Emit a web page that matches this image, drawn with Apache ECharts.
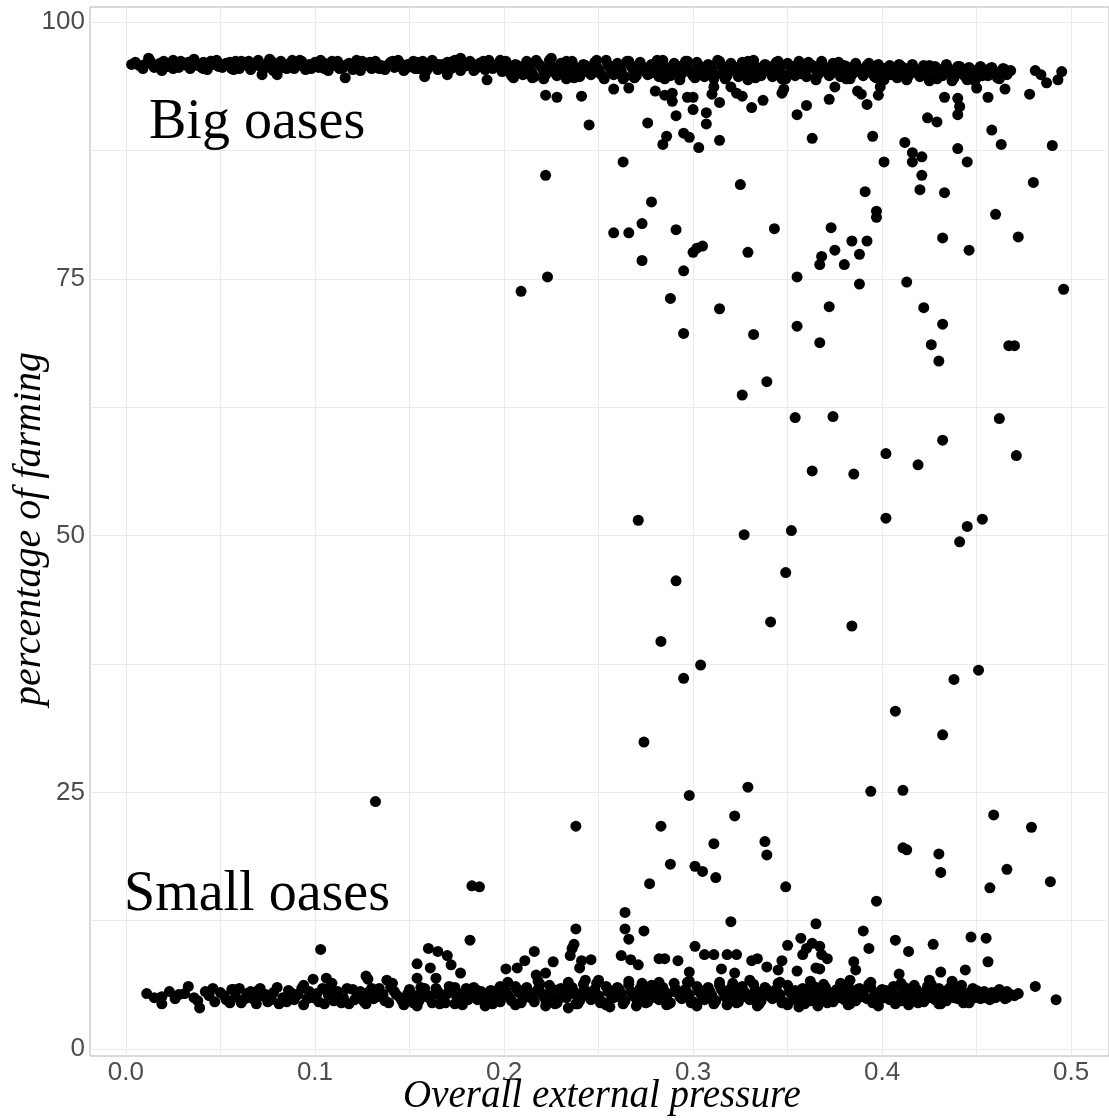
<!DOCTYPE html>
<html><head><meta charset="utf-8">
<script src="https://cdn.jsdelivr.net/npm/echarts@6/dist/echarts.min.js"></script>
<style>html,body{margin:0;padding:0;background:#fff}#c{width:1109px;height:1120px}</style>
</head><body><div id="c"></div>
<script>
const xTicks = [0, 0.1, 0.2, 0.3, 0.4, 0.5];
const xGridValues = [0, 0.05, 0.1, 0.15, 0.2, 0.25, 0.3, 0.35, 0.4, 0.45, 0.5];
const yTicks = [0, 25, 50, 75, 100];
const yGridValues = [0, 12.5, 25, 37.5, 50, 62.5, 75, 87.5, 100];

// dense band of big oases (~95-96 %)
const bigBand = [
[0.005,96.1],[0.010,95.9],[0.012,96.5],[0.019,95.3],[0.018,96.0],[0.022,95.7],[0.025,96.3],[0.028,95.6],[0.031,96.0],[0.034,95.5],[0.036,96.4],[0.038,95.8],[0.041,96.1],[0.043,95.4],[0.046,95.9],[0.048,96.3],[0.051,95.6],[0.053,96.0],[0.056,95.5],[0.058,96.2],[0.061,95.8],[0.063,96.1],[0.066,95.4],[0.068,95.9],[0.070,96.3],[0.072,94.9],[0.073,95.6],[0.076,96.4],[0.075,96.0],[0.078,95.3],[0.080,94.9],[0.080,95.8],[0.082,96.2],[0.085,95.5],[0.087,96.0],[0.090,95.7],[0.092,96.3],[0.095,95.4],[0.097,95.9],[0.100,96.1],[0.102,95.6],[0.105,96.0],[0.107,95.3],[0.110,95.8],[0.112,96.2],[0.116,94.6],[0.115,95.6],[0.118,96.0],[0.120,95.4],[0.122,96.3],[0.125,95.7],[0.127,96.0],[0.130,95.5],[0.132,96.2],[0.135,95.8],[0.137,95.4],[0.140,96.1],[0.142,95.6],[0.145,96.0],[0.147,95.3],[0.150,95.8],[0.152,96.2],[0.155,95.5],[0.157,96.0],[0.158,94.7],[0.160,95.7],[0.162,96.3],[0.165,95.4],[0.167,95.9],[0.170,94.9],[0.170,96.1],[0.172,95.5],[0.175,96.0],[0.177,96.5],[0.177,95.3],[0.180,95.8],[0.182,96.2],[0.185,95.6],[0.187,96.0],[0.190,95.4],[0.191,94.4],[0.192,96.3],[0.195,95.7],[0.197,96.0],[0.199,95.2],
[0.200,96.1],[0.202,95.4],[0.204,94.8],[0.206,95.9],[0.208,95.5],[0.210,94.9],[0.212,96.2],[0.214,95.3],[0.215,94.6],[0.216,94.7],[0.218,96.0],[0.220,95.6],[0.222,94.9],[0.224,96.3],[0.225,96.5],[0.226,95.4],[0.228,94.8],[0.230,96.0],[0.232,95.5],[0.234,95.0],[0.236,96.2],[0.238,95.3],[0.240,94.7],[0.242,95.9],[0.244,95.5],[0.246,94.9],[0.248,96.1],[0.250,95.4],[0.252,94.8],[0.254,96.3],[0.256,95.6],[0.258,94.9],[0.260,96.0],[0.262,95.3],[0.264,94.7],[0.266,96.2],[0.268,95.5],[0.270,94.8],[0.272,96.1],[0.274,95.4],[0.276,94.9],[0.278,95.9],[0.280,95.6],[0.282,94.7],[0.284,96.3],[0.286,95.4],[0.288,94.8],[0.290,96.0],[0.292,95.5],[0.294,95.0],[0.296,96.2],[0.298,95.3],[0.300,94.8],[0.302,96.1],[0.304,95.5],[0.306,94.7],[0.308,95.9],[0.310,95.4],[0.312,94.9],[0.314,96.2],[0.316,95.6],[0.318,94.8],[0.320,96.0],[0.322,95.3],[0.324,94.7],[0.326,96.1],[0.328,95.5],[0.330,94.9],[0.332,96.3],[0.334,95.4],[0.336,94.8],[0.338,95.9],[0.340,95.6],[0.342,94.7],[0.344,96.1],[0.346,95.3],[0.348,94.9],[0.350,96.0],[0.352,95.5],[0.354,94.8],[0.356,96.2],[0.358,95.4],[0.360,94.7],[0.362,95.9],[0.364,95.5],[0.366,94.9],[0.368,96.2],[0.370,95.3],[0.372,94.8],[0.374,96.0],[0.376,95.6],[0.378,94.7],[0.380,95.8],[0.382,95.4],[0.384,94.9],[0.386,96.0],[0.388,95.3],[0.390,94.8],[0.392,95.8],[0.394,95.5],[0.396,94.7],[0.398,95.9],[0.400,95.2],[0.402,94.8],[0.404,95.8],[0.406,95.4],[0.408,94.6],[0.410,95.7],[0.412,95.2],[0.414,94.8],[0.416,95.9],[0.418,95.3],[0.420,94.7],[0.422,95.8],[0.424,95.2],[0.426,94.6],[0.428,95.7],[0.430,95.3],[0.432,94.8],[0.434,95.9],[0.436,95.1],[0.438,94.6],[0.440,95.7],[0.442,95.2],[0.444,94.7],[0.446,95.6],[0.448,95.1],[0.450,94.6],[0.452,95.7],[0.454,95.2],[0.456,94.8],[0.458,95.6],[0.460,95.0],[0.462,94.5],[0.464,95.5],[0.466,94.9],[0.468,95.3]
];
const bigBandMore = [
[0.007,95.8],[0.015,95.6],[0.020,96.2],[0.027,95.9],[0.033,96.1],[0.040,95.6],[0.045,96.2],[0.050,95.9],[0.055,96.1],[0.060,95.5],[0.065,96.2],[0.071,95.7],[0.077,95.9],[0.083,95.6],[0.088,96.3],[0.093,95.8],[0.098,95.5],[0.103,96.3],[0.108,95.9],[0.113,95.5],[0.119,95.8],[0.124,95.3],[0.129,96.1],[0.134,95.5],[0.139,95.9],[0.144,96.3],[0.149,95.6],[0.154,96.1],[0.159,95.3],[0.164,95.9],[0.169,95.6],[0.174,96.3],[0.179,95.7],[0.184,95.3],[0.189,96.1],[0.194,95.5],[0.198,96.3],
[0.201,95.7],[0.203,95.1],[0.207,95.8],[0.209,95.2],[0.213,95.7],[0.215,95.0],[0.219,95.8],[0.221,95.2],[0.225,95.7],[0.227,95.1],[0.231,95.8],[0.233,94.5],[0.237,95.7],[0.239,95.1],[0.243,95.8],[0.245,95.2],[0.249,95.7],[0.251,95.0],[0.255,95.8],[0.257,95.2],[0.261,95.7],[0.263,94.5],[0.267,95.8],[0.269,95.1],[0.273,95.7],[0.275,95.2],[0.279,95.8],[0.281,95.0],[0.285,95.7],[0.287,95.2],[0.291,95.8],[0.293,94.4],[0.297,95.7],[0.299,95.1],[0.303,95.8],[0.305,95.2],[0.309,95.7],[0.311,94.5],[0.315,95.8],[0.317,95.1],[0.321,95.7],[0.323,95.2],[0.327,95.8],[0.329,94.4],[0.333,95.7],[0.335,95.1],[0.339,95.8],[0.341,95.2],[0.345,95.7],[0.347,94.5],[0.351,95.8],[0.353,95.1],[0.357,95.7],[0.359,95.2],[0.363,95.8],[0.365,94.4],[0.369,95.7],[0.371,95.1],[0.375,95.6],[0.377,95.2],[0.381,95.7],[0.383,94.5],[0.387,95.6],[0.389,95.1],[0.393,95.7],[0.395,95.0],[0.399,95.6],[0.401,94.4],[0.405,95.5],[0.407,95.0],[0.411,95.6],[0.413,94.4],[0.417,95.5],[0.419,95.0],[0.423,95.6],[0.425,94.3],[0.429,95.5],[0.431,94.9],[0.435,95.5],[0.437,94.3],[0.441,95.4],[0.443,94.9],[0.447,95.4],[0.449,94.3],[0.453,95.4],[0.455,94.9],[0.459,95.3],[0.461,94.6],[0.465,95.2]
];
const bigBandFill = [
[0.003,95.9],[0.009,95.5],[0.013,96.2],[0.017,95.7],[0.021,95.9],[0.025,95.5],[0.029,96.2],[0.033,95.7],[0.037,95.9],[0.041,95.5],[0.045,96.2],[0.049,95.7],[0.053,95.9],[0.057,95.4],[0.061,96.2],[0.065,95.7],[0.069,95.9],[0.073,95.5],[0.077,96.2],[0.081,95.7],[0.085,95.9],[0.089,95.5],[0.093,96.2],[0.097,95.6],[0.101,95.9],[0.105,95.5],[0.109,96.2],[0.113,95.7],[0.117,95.9],[0.121,95.5],[0.125,96.2],[0.129,95.7],[0.133,95.9],[0.137,95.5],[0.141,96.2],[0.145,95.7],[0.149,95.9],[0.153,95.5],[0.157,96.2],[0.161,95.7],[0.165,95.9],[0.169,95.5],[0.173,96.2],[0.177,95.7],[0.181,95.9],[0.185,95.5],[0.189,96.2],[0.193,95.7],[0.197,95.9],
[0.201,96.2],[0.205,94.6],[0.209,95.6],[0.213,95.0],[0.217,96.3],[0.221,94.5],[0.225,95.7],[0.229,95.0],[0.233,96.2],[0.237,94.6],[0.241,95.6],[0.245,95.1],[0.249,96.3],[0.253,94.5],[0.257,95.7],[0.261,95.0],[0.265,96.2],[0.269,94.6],[0.273,95.6],[0.277,95.0],[0.281,96.3],[0.285,94.5],[0.289,95.7],[0.293,95.1],[0.297,96.2],[0.301,94.6],[0.305,95.6],[0.309,95.0],[0.313,96.3],[0.317,94.5],[0.321,95.7],[0.325,95.0],[0.329,96.2],[0.333,94.6],[0.337,95.6],[0.341,95.1],[0.345,96.2],[0.349,94.5],[0.353,95.7],[0.357,95.0],[0.361,96.1],[0.365,94.6],[0.369,95.6],[0.373,95.0],[0.377,96.1],[0.381,94.5],[0.385,95.7],[0.389,95.1],[0.393,96.0],[0.397,94.6],[0.401,95.5],[0.405,94.9],[0.409,95.9],[0.413,94.5],[0.417,95.5],[0.421,94.9],[0.425,95.8],[0.429,94.5],[0.433,95.4],[0.437,94.9],[0.441,95.7],[0.445,94.4],[0.449,95.3],[0.453,94.8],[0.457,95.5],[0.461,94.8],[0.465,95.4]
];

// dense band of small oases (~5 %)
const smallBand = [
[0.011,5.4],[0.019,5.1],[0.019,4.4],[0.026,4.9],[0.028,5.3],[0.033,6.1],[0.036,5.0],[0.039,4.0],[0.042,5.6],[0.044,5.2],[0.047,4.6],[0.050,5.5],[0.053,4.8],[0.056,5.8],[0.058,5.1],[0.061,4.5],[0.064,5.4],[0.067,4.9],[0.070,5.7],[0.072,5.2],[0.075,4.6],[0.078,5.5],[0.081,4.4],[0.083,5.0],[0.086,5.7],[0.089,4.8],[0.091,5.3],[0.094,4.3],[0.097,5.6],[0.099,5.0],[0.102,4.6],[0.104,5.9],[0.107,5.3],[0.110,4.7],[0.112,5.6],[0.115,5.0],[0.118,4.4],[0.120,5.8],[0.123,5.2],[0.126,4.6],[0.128,5.5],[0.131,4.9],[0.134,5.9],[0.136,5.3],[0.139,4.5],[0.142,5.6],[0.145,5.0],[0.147,4.3],[0.150,5.8],[0.153,5.2],[0.155,4.7],[0.158,5.5],[0.161,4.9],[0.164,5.9],[0.166,5.3],[0.169,4.5],[0.172,5.7],[0.175,5.1],[0.177,4.6],[0.180,5.9],[0.183,5.3],[0.186,4.8],[0.188,5.6],[0.191,5.0],[0.194,4.4],[0.197,5.8],[0.199,5.2],
[0.200,5.9],[0.202,5.3],[0.204,4.7],[0.206,6.1],[0.208,5.5],[0.210,4.9],[0.212,6.0],[0.214,5.2],[0.216,4.6],[0.218,5.8],[0.220,5.4],[0.222,4.8],[0.224,6.2],[0.226,5.1],[0.228,4.5],[0.230,5.9],[0.232,5.5],[0.234,4.0],[0.236,6.0],[0.238,5.3],[0.240,4.7],[0.242,6.3],[0.244,5.4],[0.246,4.8],[0.248,5.8],[0.250,5.2],[0.252,4.6],[0.254,6.1],[0.256,4.1],[0.258,5.0],[0.260,6.0],[0.262,5.4],[0.264,4.7],[0.266,6.3],[0.268,5.5],[0.270,4.9],[0.272,5.9],[0.274,5.2],[0.276,4.6],[0.278,6.2],[0.280,5.4],[0.282,4.8],[0.284,6.0],[0.286,5.1],[0.288,4.5],[0.290,6.4],[0.292,5.5],[0.294,4.9],[0.296,5.8],[0.298,5.3],[0.300,4.6],[0.302,6.1],[0.304,5.4],[0.306,4.8],[0.308,6.0],[0.310,5.2],[0.312,4.7],[0.314,6.2],[0.316,5.5],[0.318,4.9],[0.320,5.9],[0.322,5.3],[0.324,4.6],[0.326,6.1],[0.328,5.4],[0.330,4.8],[0.332,6.3],[0.334,5.2],[0.336,4.7],[0.338,6.0],[0.340,5.5],[0.342,4.9],[0.344,5.8],[0.346,5.3],[0.348,4.6],[0.350,6.2],[0.352,5.4],[0.354,4.8],[0.356,4.1],[0.358,5.9],[0.360,5.2],[0.362,4.7],[0.364,6.1],[0.366,5.5],[0.368,4.9],[0.370,6.0],[0.372,5.3],[0.374,4.6],[0.376,5.8],[0.378,5.4],[0.380,4.8],[0.382,6.2],[0.384,5.2],[0.386,4.7],[0.388,5.9],[0.390,5.5],[0.392,4.9],[0.394,6.0],[0.396,5.3],[0.398,4.6],[0.400,5.8],[0.402,5.4],[0.404,4.8],[0.406,6.1],[0.408,5.2],[0.410,4.7],[0.412,6.0],[0.414,5.5],[0.416,4.9],[0.418,5.8],[0.420,5.3],[0.422,4.6],[0.424,6.1],[0.426,5.4],[0.428,4.8],[0.430,5.9],[0.432,5.2],[0.434,4.7],[0.436,6.0],[0.438,5.5],[0.440,4.9],[0.442,5.7],[0.444,5.3],[0.446,4.8],[0.448,5.9],[0.450,5.2],[0.452,4.9],[0.454,5.6],[0.456,5.1],[0.458,5.5],[0.460,5.0],[0.462,5.4],[0.464,5.2],[0.466,5.6],[0.468,5.3]
];
const smallBandMore = [
[0.015,5.0],[0.023,5.6],[0.031,5.4],[0.038,4.7],[0.046,5.9],[0.052,5.2],[0.055,4.5],[0.060,5.9],[0.063,4.9],[0.066,5.6],[0.069,4.4],[0.074,5.3],[0.077,4.8],[0.080,6.0],[0.085,4.6],[0.088,5.4],[0.093,5.9],[0.096,4.9],[0.101,5.4],[0.105,4.4],[0.108,6.0],[0.111,5.1],[0.114,4.5],[0.117,5.9],[0.121,4.8],[0.124,5.6],[0.127,4.4],[0.130,5.9],[0.133,5.1],[0.137,4.7],[0.140,6.0],[0.143,5.3],[0.146,4.7],[0.149,5.4],[0.152,4.5],[0.156,6.0],[0.159,5.1],[0.162,4.5],[0.165,5.6],[0.168,4.9],[0.171,6.1],[0.174,4.4],[0.178,5.4],[0.181,4.8],[0.184,6.0],[0.187,5.1],[0.190,4.5],[0.193,5.7],[0.196,4.9],[0.198,6.1],
[0.201,5.6],[0.203,5.0],[0.207,5.8],[0.209,4.5],[0.213,5.6],[0.215,5.0],[0.219,6.3],[0.221,5.1],[0.225,5.6],[0.227,4.4],[0.231,5.8],[0.233,5.0],[0.237,5.6],[0.239,4.4],[0.243,5.7],[0.245,5.1],[0.249,6.4],[0.251,4.5],[0.255,5.6],[0.257,5.0],[0.261,5.8],[0.263,4.4],[0.267,5.6],[0.269,5.1],[0.273,6.4],[0.275,4.5],[0.279,5.7],[0.281,5.0],[0.285,5.6],[0.287,4.4],[0.291,5.8],[0.293,5.1],[0.297,6.5],[0.299,4.5],[0.303,5.7],[0.305,5.0],[0.309,5.6],[0.311,4.4],[0.315,5.8],[0.317,5.1],[0.321,6.4],[0.323,4.5],[0.327,5.6],[0.329,5.0],[0.333,5.7],[0.335,4.4],[0.339,5.8],[0.341,5.1],[0.345,6.4],[0.347,4.5],[0.351,5.6],[0.353,5.0],[0.357,5.7],[0.359,4.4],[0.363,5.8],[0.365,5.1],[0.369,6.3],[0.371,4.5],[0.375,5.6],[0.377,5.0],[0.381,5.7],[0.383,4.4],[0.387,5.8],[0.389,5.1],[0.393,6.3],[0.395,4.5],[0.399,5.6],[0.401,5.0],[0.405,5.7],[0.407,4.4],[0.411,5.8],[0.413,5.1],[0.417,6.2],[0.419,4.5],[0.423,5.6],[0.425,5.0],[0.429,5.7],[0.431,4.4],[0.435,5.8],[0.437,5.1],[0.441,6.1],[0.443,4.5],[0.447,5.6],[0.449,5.0],[0.453,5.3],[0.457,4.8],[0.461,5.6],[0.465,4.9],[0.470,5.2]
];
const smallBandFill = [
[0.150,5.0],[0.154,4.2],[0.158,5.9],[0.162,5.2],[0.166,4.4],[0.170,5.4],[0.174,6.0],[0.178,4.3],[0.182,5.1],[0.186,5.7],[0.190,4.2],[0.194,5.3],[0.198,4.6],
[0.202,6.5],[0.206,4.3],[0.210,5.7],[0.214,5.0],[0.218,6.6],[0.222,4.2],[0.226,5.8],[0.230,5.0],[0.234,6.5],[0.238,4.4],[0.242,5.6],[0.246,5.1],[0.250,6.7],[0.254,4.3],[0.258,5.7],[0.262,5.0],[0.266,6.6],[0.270,4.2],[0.274,5.8],[0.278,5.0],[0.282,6.5],[0.286,4.3],[0.290,5.6],[0.294,5.1],[0.298,6.6],[0.302,4.2],[0.306,5.7],[0.310,5.0],[0.314,6.5],[0.318,4.3],[0.322,5.8],[0.326,5.1],[0.330,6.7],[0.334,4.2],[0.338,5.6],[0.342,5.0],[0.346,6.5],[0.350,4.3],[0.354,5.7],[0.358,5.1],[0.362,6.6],[0.366,4.2],[0.370,5.8],[0.374,5.0],[0.378,6.4],[0.382,4.3],[0.386,5.6],[0.390,5.1],[0.394,6.5],[0.398,4.2],[0.402,5.7],[0.406,5.0],[0.410,6.4],[0.414,4.3],[0.418,5.8],[0.422,5.1],[0.426,6.3],[0.430,4.4],[0.434,5.6],[0.438,5.0],[0.442,6.2],[0.446,4.5],[0.450,5.7],[0.454,5.0],[0.458,5.4],[0.462,5.8],[0.466,5.0]
];

// scattered points between the bands
const upperScatter = [
[0.222,92.9],[0.228,92.7],[0.241,92.8],[0.245,90.0],[0.258,93.5],[0.266,93.6],[0.280,93.3],[0.276,90.2],[0.285,92.9],[0.289,93.1],[0.289,92.3],[0.291,90.9],[0.297,92.7],[0.300,92.7],[0.300,91.5],[0.307,91.2],[0.307,90.1],[0.286,88.9],[0.284,88.1],[0.295,89.2],[0.298,88.8],[0.303,87.8],[0.314,88.5],[0.311,93.7],[0.310,93.0],[0.314,92.2],[0.320,93.7],[0.323,93.1],[0.326,92.8],[0.331,91.7],[0.337,92.4],[0.348,93.5],[0.347,93.1],[0.355,91.0],[0.360,91.9],[0.372,92.5],[0.375,93.7],[0.363,88.7],[0.387,93.3],[0.389,93.0],[0.392,92.0],[0.398,92.9],[0.399,93.7],[0.395,88.9],[0.433,92.7],[0.424,90.7],[0.429,90.3],[0.440,92.6],[0.441,91.8],[0.440,91.0],[0.450,93.6],[0.456,92.7],[0.465,93.5],[0.478,93.0],[0.458,89.5],[0.463,88.1],[0.490,88.0],[0.481,95.3],[0.484,94.9],[0.487,94.1],[0.493,94.4],[0.495,95.2],
[0.263,86.4],[0.222,85.1],[0.278,82.5],[0.325,84.2],[0.258,79.5],[0.266,79.5],[0.273,80.4],[0.291,79.8],[0.300,77.6],[0.302,78.0],[0.305,78.2],[0.273,76.8],[0.343,79.9],[0.329,77.6],[0.295,75.8],[0.355,75.2],[0.223,75.2],[0.209,73.8],[0.288,73.1],[0.314,72.1],[0.295,69.7],[0.332,69.6],[0.355,70.4],[0.339,65.0],[0.326,63.7],
[0.412,88.3],[0.416,87.3],[0.421,86.9],[0.416,86.4],[0.401,86.4],[0.421,85.1],[0.420,83.7],[0.433,83.4],[0.440,87.7],[0.445,86.4],[0.480,84.4],[0.391,83.5],[0.397,81.6],[0.397,81.0],[0.373,80.0],[0.384,78.7],[0.392,78.7],[0.375,77.8],[0.388,77.4],[0.368,77.2],[0.367,76.4],[0.380,76.4],[0.460,81.3],[0.472,79.1],[0.432,79.0],[0.446,77.8],[0.388,74.5],[0.413,74.7],[0.496,74.0],[0.372,72.3],[0.422,72.2],[0.432,70.6],[0.367,68.8],[0.426,68.6],[0.467,68.5],[0.470,68.5],[0.430,67.0]
];
const middleScatter = [
[0.354,61.5],[0.374,61.6],[0.462,61.4],[0.432,59.3],[0.402,58.0],[0.419,56.9],[0.363,56.3],[0.385,56.0],[0.471,57.8],[0.271,51.5],[0.402,51.7],[0.453,51.6],[0.445,50.9],[0.441,49.4],[0.327,50.1],[0.352,50.5],[0.291,45.6],[0.349,46.4],[0.341,41.6],[0.384,41.2],[0.283,39.7],[0.304,37.4],[0.295,36.1],[0.451,36.9],[0.438,36.0],[0.407,32.9],[0.274,29.9],[0.432,30.6],[0.132,24.1],[0.298,24.7],[0.329,25.5],[0.394,25.1],[0.411,25.2],[0.238,21.7],[0.283,21.7],[0.322,22.7],[0.459,22.8],[0.479,21.6],[0.311,20.0],[0.338,20.2],[0.339,18.9],[0.411,19.6],[0.413,19.4],[0.430,19.0],[0.431,17.2],[0.466,17.5],[0.457,15.7],[0.489,16.3],[0.288,18.0],[0.301,17.8],[0.305,17.3],[0.312,16.7],[0.277,16.1],[0.183,15.9],[0.187,15.8],[0.349,15.8],[0.397,14.4],[0.264,13.3],[0.320,12.4],[0.365,12.2]
];
const lowerScatter = [
[0.238,11.7],[0.264,11.7],[0.274,11.5],[0.266,10.7],[0.390,11.5],[0.357,10.8],[0.407,10.6],[0.427,10.2],[0.447,10.9],[0.455,10.8],[0.182,10.6],[0.103,9.7],[0.456,8.5],[0.492,4.8],[0.481,6.1],[0.472,5.4],
[0.301,10.0],[0.306,9.2],[0.311,9.2],[0.318,9.2],[0.323,9.2],[0.315,7.8],[0.298,7.5],[0.322,7.4],[0.331,8.6],[0.334,8.8],[0.339,8.0],[0.345,7.7],[0.347,8.6],[0.350,10.1],[0.358,9.2],[0.360,9.8],[0.363,10.3],[0.367,10.0],[0.368,9.2],[0.371,8.8],[0.365,7.9],[0.367,7.8],[0.355,7.6],[0.393,9.8],[0.385,8.5],[0.386,7.7],[0.383,6.7],[0.414,9.5],[0.409,7.3],[0.425,6.7],[0.431,7.5],[0.437,6.6],[0.444,7.7],
[0.201,7.8],[0.207,7.9],[0.211,8.6],[0.216,9.5],[0.226,8.5],[0.222,7.4],[0.217,7.2],[0.237,10.2],[0.236,9.8],[0.235,9.1],[0.241,8.6],[0.246,8.7],[0.240,7.9],[0.262,9.1],[0.267,8.7],[0.271,8.2],[0.282,8.8],[0.285,8.8],[0.292,8.6],[0.243,6.7],
[0.160,9.8],[0.165,9.5],[0.170,9.1],[0.172,8.2],[0.154,8.3],[0.161,7.9],[0.154,6.9],[0.164,6.9],[0.177,7.4],[0.127,7.1],[0.128,6.8],[0.138,6.7],[0.141,6.4],[0.099,6.8],[0.106,6.9],[0.109,6.4],[0.094,6.2],[0.057,5.8],[0.071,5.9]
];

const allPoints = bigBand.concat(bigBandMore, bigBandFill, smallBand, smallBandMore, smallBandFill, upperScatter, middleScatter, lowerScatter);

const chart = echarts.init(document.getElementById('c'), null, {renderer: 'canvas', width: 1109, height: 1120});
const tickFont = {color: '#4d4d4d', fontSize: 26, fontFamily: '"Liberation Sans", Arial, sans-serif'};
const serif = '"Liberation Serif", "Times New Roman", serif';
chart.setOption({
  animation: false,
  backgroundColor: '#ffffff',
  grid: {left: 90, top: 7, width: 1020, height: 1049, show: true, borderColor: '#b3b3b3', borderWidth: 1, backgroundColor: 'transparent'},
  xAxis: {
    type: 'value', min: -0.019, max: 0.52,
    splitLine: {show: false},
    axisLine: {show: false},
    axisTick: {show: true, customValues: xTicks, length: 4, lineStyle: {color: '#b3b3b3'}},
    axisLabel: Object.assign({customValues: xTicks, margin: 4, formatter: v => Number(v).toFixed(1)}, tickFont)
  },
  yAxis: {
    type: 'value', min: -0.68, max: 101.49,
    splitLine: {show: false},
    axisLine: {show: false},
    axisTick: {show: true, customValues: yTicks, length: 4, lineStyle: {color: '#b3b3b3'}},
    axisLabel: Object.assign({customValues: yTicks, margin: 5, formatter: v => String(v)}, tickFont)
  },
  series: [
    {
      type: 'scatter', data: [], silent: true, z: 1,
      markLine: {
        z: 1, silent: true, symbol: ['none', 'none'], label: {show: false}, animation: false,
        lineStyle: {color: '#ebebeb', width: 1, type: 'solid'},
        emphasis: {disabled: true},
        data: xGridValues.map(v => ({xAxis: v})).concat(yGridValues.map(v => ({yAxis: v})))
      }
    },
    {
      type: 'scatter', z: 10, symbolSize: 11, silent: true,
      itemStyle: {color: '#000000', opacity: 1, borderWidth: 0, borderColor: '#000000'},
      emphasis: {disabled: true},
      data: allPoints
    }
  ],
  graphic: [
    {type: 'text', x: 149, y: 123, z: 20, style: {text: 'Big oases', font: '56px ' + serif, fill: '#000', textAlign: 'left', textVerticalAlign: 'middle'}},
    {type: 'text', x: 124, y: 895, z: 20, style: {text: 'Small oases', font: '56px ' + serif, fill: '#000', textAlign: 'left', textVerticalAlign: 'middle'}},
    {type: 'text', x: 602, y: 1097, z: 20, style: {text: 'Overall external pressure', font: 'italic 39px ' + serif, fill: '#000', textAlign: 'center', textVerticalAlign: 'middle'}},
    {type: 'text', x: 29, y: 529, rotation: Math.PI / 2, z: 20, style: {text: 'percentage of farming', font: 'italic 40px ' + serif, fill: '#000', textAlign: 'center', textVerticalAlign: 'middle'}}
  ]
});
</script>
</body></html>
